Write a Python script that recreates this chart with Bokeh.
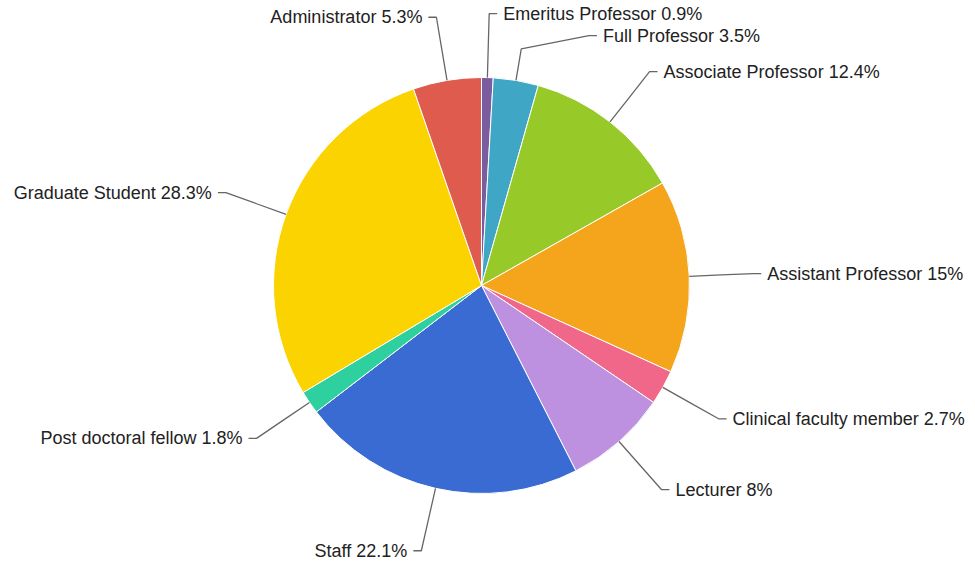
import math
from bokeh.plotting import figure
from bokeh.models import ColumnDataSource, Range1d
from bokeh.core.properties import value
from bokeh.embed import file_html
from bokeh.resources import INLINE

# ---- data ----
categories = ["Emeritus Professor", "Full Professor", "Associate Professor",
              "Assistant Professor", "Clinical faculty member", "Lecturer",
              "Staff", "Post doctoral fellow", "Graduate Student", "Administrator"]
percentages = [0.9, 3.5, 12.4, 15, 2.7, 8, 22.1, 1.8, 28.3, 5.3]
colors = ["#7b5c9e", "#3fa6c5", "#97c928", "#f4a51b", "#f0678a",
          "#bd91e0", "#3a6bd3", "#2fd09f", "#fbd300", "#de5b4d"]

# ---- layout (pixels) ----
W, H = 975, 562
CX, CY, R = 481, 285, 208
KNEE = 32
ELBOW = 64
TAIL = 8
GAP = 6
MIN_SPACING = 22
FONT_SIZE = "18px"

total = sum(percentages)
cum = [0.0]
for v in percentages:
    cum.append(cum[-1] + v)

start_angles = [math.pi / 2 - 2 * math.pi * cum[i] / total for i in range(len(percentages))]
end_angles = [math.pi / 2 - 2 * math.pi * cum[i + 1] / total for i in range(len(percentages))]

p = figure(width=W, height=H, output_backend="svg", toolbar_location=None,
           x_range=Range1d(0, W), y_range=Range1d(0, H), min_border=0,
           outline_line_color=None, background_fill_color="white",
           border_fill_color="white")
p.axis.visible = False
p.grid.visible = False

src = ColumnDataSource(dict(start=start_angles, end=end_angles, color=colors))
p.wedge(x=CX, y=H - CY, radius=R, start_angle="start", end_angle="end",
        direction="clock", fill_color="color", line_color="white",
        line_width=1, source=src)

# label geometry
items = []
for i, name in enumerate(categories):
    mid = 2 * math.pi * (cum[i] + cum[i + 1]) / 2 / total  # clockwise from top
    sx, sy = math.sin(mid), -math.cos(mid)  # pixel coords (y down)
    side = 1 if sx >= 0 else -1
    ax, ay = CX + R * sx, CY + R * sy
    kx, ky = CX + (R + KNEE) * sx, CY + (R + KNEE) * sy
    ly = CY + (R + ELBOW) * sy
    items.append(dict(i=i, side=side, a=(ax, ay), k=(kx, ky), ly=ly))

# resolve overlaps on each side
for side in (1, -1):
    grp = sorted([it for it in items if it["side"] == side], key=lambda d: d["ly"])
    prev = None
    for it in grp:
        if prev is not None and it["ly"] < prev + MIN_SPACING:
            it["ly"] = prev + MIN_SPACING
        prev = it["ly"]

RL = R + ELBOW
xs_lines, ys_lines = [], []
tx_r, ty_r, tt_r = [], [], []
tx_l, ty_l, tt_l = [], [], []
for it in items:
    dy = it["ly"] - CY
    dx = math.sqrt(max(RL * RL - dy * dy, 0.0))
    lx = CX + it["side"] * dx
    ex = lx + it["side"] * TAIL
    xs = [it["a"][0], it["k"][0], lx, ex]
    ys = [it["a"][1], it["k"][1], it["ly"], it["ly"]]
    xs_lines.append(xs)
    ys_lines.append([H - y for y in ys])
    label = f"{categories[it['i']]} {percentages[it['i']]:g}%"
    if it["side"] == 1:
        tx_r.append(ex + GAP); ty_r.append(H - it["ly"]); tt_r.append(label)
    else:
        tx_l.append(ex - GAP); ty_l.append(H - it["ly"]); tt_l.append(label)

p.multi_line(xs=xs_lines, ys=ys_lines, line_color="#666666", line_width=1.3)

p.text(x=tx_r, y=ty_r, text=tt_r, text_align="left", text_baseline="middle",
       text_font=value("Liberation Sans"), text_font_size=FONT_SIZE, text_color="#222222")
p.text(x=tx_l, y=ty_l, text=tt_l, text_align="right", text_baseline="middle",
       text_font=value("Liberation Sans"), text_font_size=FONT_SIZE, text_color="#222222")

open("out.html", "w").write(file_html(p, INLINE))
